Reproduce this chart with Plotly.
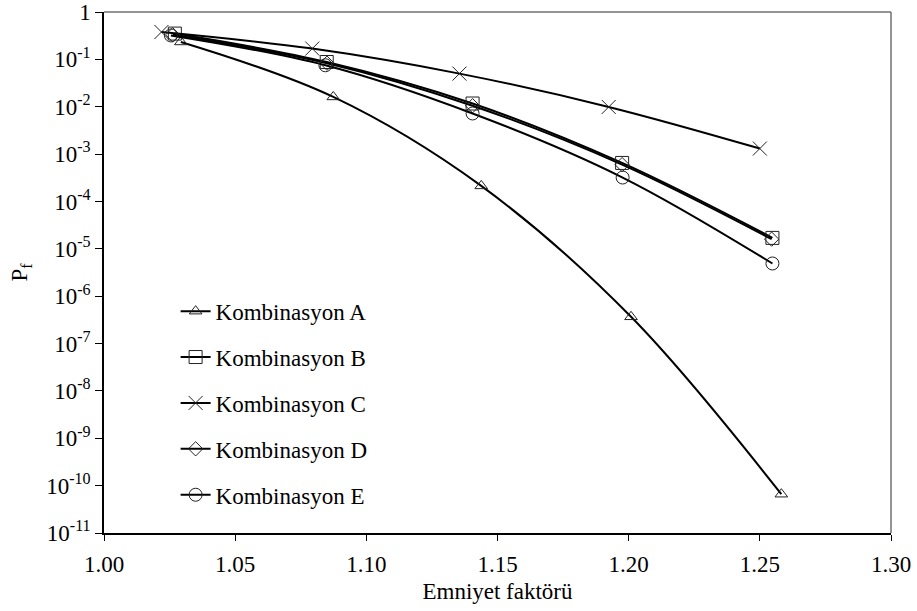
import plotly.graph_objects as go

# Data
names = ["Kombinasyon A", "Kombinasyon B", "Kombinasyon C", "Kombinasyon D", "Kombinasyon E"]

x_A = [1.0293, 1.0874, 1.1438, 1.2009, 1.2582]
y_A = [0.233, 0.0161, 2.13e-4, 3.67e-7, 6.6e-11]

x_B = [1.0270, 1.0849, 1.1405, 1.1975, 1.2548]
y_B = [0.35, 0.088, 0.0117, 6.5e-4, 1.7e-5]

x_C = [1.0219, 1.0794, 1.1355, 1.1924, 1.2500]
y_C = [0.378, 0.169, 0.050, 0.0099, 1.31e-3]

x_D = [1.0262, 1.0850, 1.1405, 1.1975, 1.2545]
y_D = [0.33, 0.083, 0.0105, 6.0e-4, 1.6e-5]

x_E = [1.0255, 1.0844, 1.1405, 1.1977, 1.2548]
y_E = [0.32, 0.075, 0.0072, 3.2e-4, 4.9e-6]

symbols = ["triangle-up-open", "square-open", "x-thin-open", "diamond-open", "circle-open"]
msizes = [11, 13, 14, 11, 13]

x_ticks = [1.00, 1.05, 1.10, 1.15, 1.20, 1.25, 1.30]
x_ticktext = ["1.00", "1.05", "1.10", "1.15", "1.20", "1.25", "1.30"]
y_exps = [0, -1, -2, -3, -4, -5, -6, -7, -8, -9, -10, -11]
y_ticktext = ["1"] + ["10<sup>%d</sup>" % e for e in y_exps[1:]]

FONT = "Liberation Serif"
FS = 23

fig = go.Figure()
series = [(x_A, y_A), (x_B, y_B), (x_C, y_C), (x_D, y_D), (x_E, y_E)]
for i, (xs, ys) in enumerate(series):
    fig.add_trace(go.Scatter(
        x=xs, y=ys, name=names[i], mode="lines+markers",
        line=dict(color="black", width=2, shape="spline", smoothing=1.0),
        marker=dict(symbol=symbols[i], size=msizes[i], color="#222222",
                    line=dict(width=1, color="#222222")),
        legendgroup=names[i],
    ))

fig.update_layout(
    template="none",
    width=917, height=611,
    margin=dict(l=104, r=26, t=12, b=78, pad=0),
    paper_bgcolor="white", plot_bgcolor="white",
    font=dict(family=FONT, size=FS, color="black"),
    showlegend=True,
    legend=dict(x=0.091, y=0.467, xanchor="left", yanchor="top",
                bgcolor="rgba(0,0,0,0)", borderwidth=0,
                font=dict(family=FONT, size=FS, color="black"),
                tracegroupgap=13, itemwidth=30),
    xaxis=dict(range=[1.0, 1.3], tickvals=x_ticks, ticktext=x_ticktext,
               automargin=False,
               showgrid=False, zeroline=False, showline=True, linecolor="black",
               linewidth=1.5, ticks="outside", ticklen=6, tickcolor="black",
               ticklabelstandoff=4,
               tickfont=dict(family=FONT, size=FS),
               title=dict(text="Emniyet faktörü", font=dict(family=FONT, size=FS), standoff=7)),
    yaxis=dict(type="log", range=[-11, 0],
               automargin=False,
               tickvals=[10.0 ** e for e in y_exps], ticktext=y_ticktext,
               showgrid=False, zeroline=False, showline=True, linecolor="black",
               linewidth=1.5, ticks="outside", ticklen=7, tickcolor="black",
               tickfont=dict(family=FONT, size=FS),
               title=dict(text="P<sub>f</sub>", font=dict(family=FONT, size=FS), standoff=12)),
    shapes=[
        dict(type="line", xref="paper", yref="paper", x0=0, x1=1, y0=1, y1=1,
             line=dict(color="#707070", width=1.5)),
        dict(type="line", xref="paper", yref="paper", x0=1, x1=1, y0=0, y1=1,
             line=dict(color="#707070", width=1.5)),
    ],
)

fig.write_html("out.html")
